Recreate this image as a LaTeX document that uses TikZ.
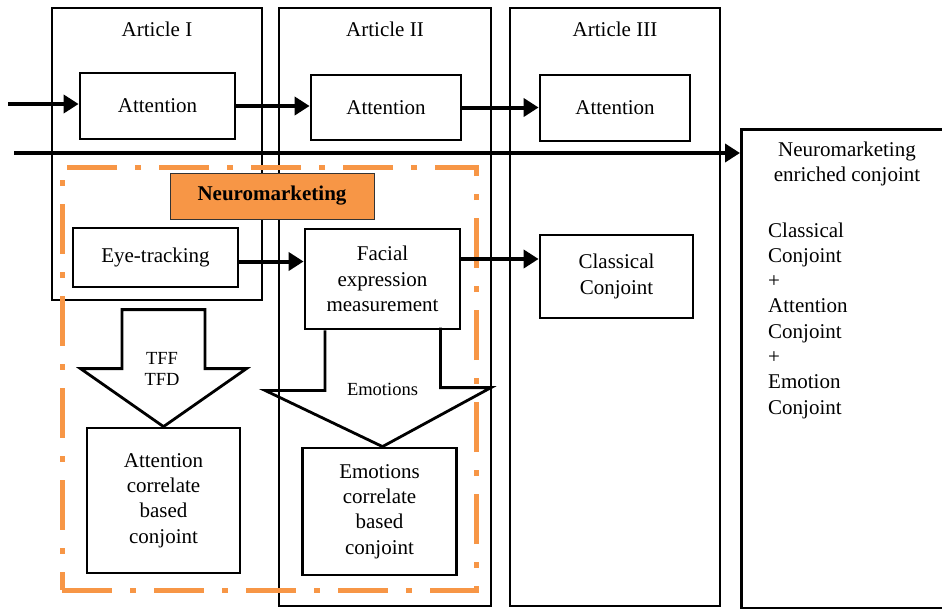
\documentclass[tikz,border=0pt]{standalone}
\usepackage{fontspec}
\setmainfont{Liberation Serif}
\usetikzlibrary{arrows.meta,positioning,calc}
\definecolor{nmorange}{HTML}{F79646}

\begin{document}
\begin{tikzpicture}[x=1pt, y=-1pt,
  col/.style={draw, line width=2.8pt, inner sep=0pt},
  hdr/.style={font=\fontsize{21}{25.3}\selectfont},
  b/.style={draw, line width=2.8pt, fill=white, align=center, inner sep=0pt,
            font=\fontsize{21}{25.3}\selectfont},
  blk/.style={draw, line width=2.8pt, line join=miter},
  small/.style={font=\fontsize{18.5}{21}\selectfont, align=center, inner sep=0pt},
  orng/.style={draw=nmorange, line width=5pt, inner sep=0pt,
               dash pattern=on 50pt off 18pt on 6pt off 18pt},
  ar/.style={-{Triangle[length=15pt,width=18pt]}, line width=4pt}]
\useasboundingbox (0,0) rectangle (942,608);
\node[col, minimum width=210pt, minimum height=292pt] (c1) at (157,154) {};
\node[col, minimum width=212pt, minimum height=598pt] (c2) at (385,307) {};
\node[col, minimum width=210pt, minimum height=598pt] (c3) at (615,307) {};
\node[col, minimum width=240pt, minimum height=479pt, anchor=north west] (nec) at (740,128) {};
\node[hdr, below=12pt of c1.north] (t1) {Article I};
\node[hdr, below=12pt of c2.north] (t2) {Article II};
\node[hdr, below=12pt of c3.north] (t3) {Article III};
\node[b, minimum width=155pt, minimum height=66pt] (at1) at (157.5,106) {Attention};
\node[b, minimum width=150pt, minimum height=65pt] (at2) at (386,107.5) {Attention};
\node[b, minimum width=150pt, minimum height=66pt] (at3) at (615,108) {Attention};
\node[orng, minimum width=414pt, minimum height=423pt] (nmzone) at (269,378.5) {};
\node[draw=black!80, line width=0.8pt, fill=nmorange, minimum width=204pt, minimum height=46pt,
      font=\fontsize{21}{25.3}\selectfont\bfseries] (nmlbl) at (272,196) {Neuromarketing};
\node[b, minimum width=165pt, minimum height=59pt] (eye) at (155.5,257.5) {Eye-tracking};
\node[b, minimum width=155pt, minimum height=100pt] (fac) at (382.5,279) {Facial\\expression\\measurement};
\node[b, minimum width=153pt, minimum height=83pt] (cc) at (616.5,276.5) {Classical\\Conjoint};
\node[b, minimum width=153pt, minimum height=145pt] (ac) at (163.5,500.5) {Attention\\correlate\\based\\conjoint};
\node[b, minimum width=154pt, minimum height=127pt] (ec) at (379.5,511.5) {Emotions\\correlate\\based\\conjoint};
\node[hdr, align=center, inner sep=0pt] (nectitle) at (847,164) {Neuromarketing\\enriched conjoint};
\node[hdr, align=left, inner sep=0pt, anchor=west] (neclist) at (768,320.5)
  {Classical\\Conjoint\\+\\Attention\\Conjoint\\+\\Emotion\\Conjoint};
\draw[blk] (ac.north) -- ++(83,-58) -- ++(-41.5,0) -- ++(0,-59) -- ++(-83,0) -- ++(0,59)
  -- ++(-41.5,0) -- cycle;
\node[small] (tff) at (162,368.5) {TFF\\TFD};
\draw[blk] ($(fac.south)+(-57.5,0)$) -- ++(0,60) -- ++(-60,0) -- (fac.south |- ec.north)
  -- ++(108.5,-59) -- ++(-50.5,0) -- ++(0,-60);
\node[small] (emo) at (382.5,389) {Emotions};
\coordinate (in1) at (8,104);
\coordinate (in2) at (14,153);
\draw[ar] (in1) -- (in1 -| at1.west);
\draw[ar] (at1.east) -- (at1.east -| at2.west);
\draw[ar] (at2.east) -- (at2.east -| at3.west);
\draw[ar] (in2) -- (in2 -| nec.west);
\draw[ar] ([yshift=-4pt]eye.east) -- ([yshift=-4pt]eye.east -| fac.west);
\draw[ar] ([yshift=20pt]fac.east) -- ([yshift=20pt]fac.east -| cc.west);
\end{tikzpicture}
\end{document}
